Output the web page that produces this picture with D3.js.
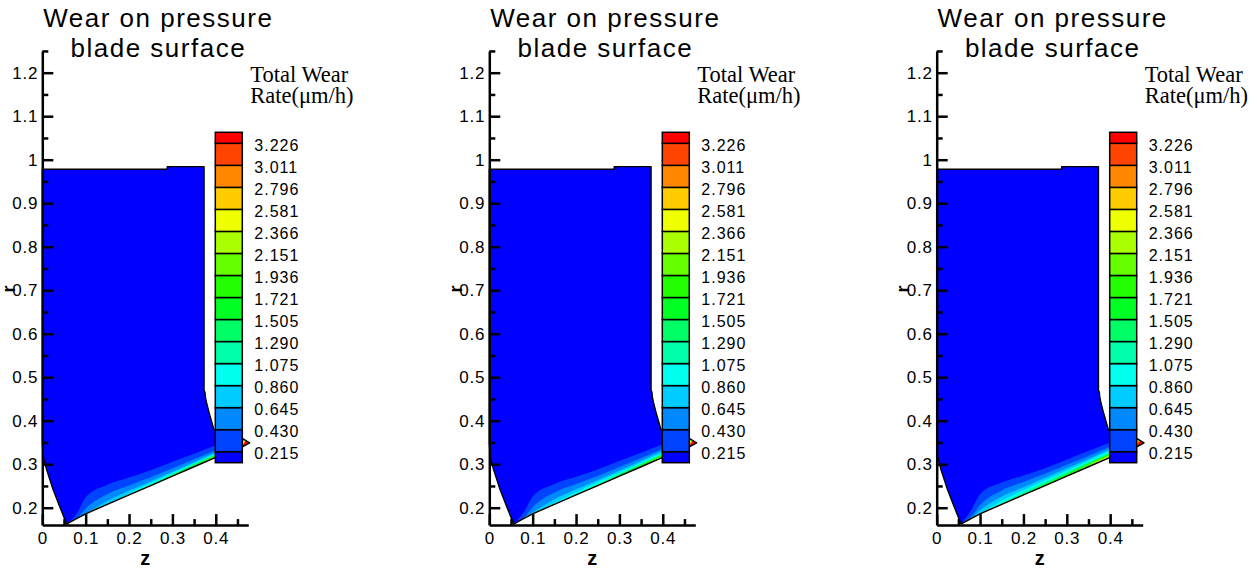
<!DOCTYPE html>
<html>
<head>
<meta charset="utf-8">
<script src="https://cdn.jsdelivr.net/npm/d3@7"></script>
<style>
  body { margin: 0; background: #fff; }
  svg { display: block; font-family: "Liberation Sans", Arial, sans-serif; }
  text { fill: #000; }
</style>
</head>
<body>
<svg id="chart" width="1257" height="575"></svg>
<script>
// axis ticks
var zTicks = [0, 0.1, 0.2, 0.3, 0.4];
var zTickLabels = ["0", "0.1", "0.2", "0.3", "0.4"];
var zMinorTicks = [0.05, 0.15, 0.25, 0.35, 0.45];
var rTicks = [0.2, 0.3, 0.4, 0.5, 0.6, 0.7, 0.8, 0.9, 1.0, 1.1, 1.2];
var rTickLabels = ["0.2", "0.3", "0.4", "0.5", "0.6", "0.7", "0.8", "0.9", "1", "1.1", "1.2"];
var rMinorTicks = [0.25, 0.35, 0.45, 0.55, 0.65, 0.75, 0.85, 0.95, 1.05, 1.15, 1.25];

// contour levels of the legend
var levels = [0.215, 0.430, 0.645, 0.860, 1.075, 1.290, 1.505, 1.721, 1.936, 2.151, 2.366, 2.581, 2.796, 3.011, 3.226];
var levelLabels = ["0.215", "0.430", "0.645", "0.860", "1.075", "1.290", "1.505", "1.721", "1.936", "2.151", "2.366", "2.581", "2.796", "3.011", "3.226"];

// blade outline: top, right side down to the tip (z, r)
var outlineTopZ = [0, 0.288, 0.288, 0.373, 0.373, 0.375, 0.376, 0.379, 0.385, 0.396, 0.43, 0.46];
var outlineTopR = [0.978, 0.978, 0.984, 0.984, 0.47, 0.466, 0.455, 0.44, 0.417, 0.379, 0.368, 0.36];
// blade outline: left side from the lowest point up to the axis
var outlineLeftZ = [0.04, 0.025, 0.010, 0.002, 0];
var outlineLeftR = [0.203, 0.241, 0.287, 0.317, 0.349];
// trailing (lower) edge, also the stations for the wear bands
var stationZ = [0.056, 0.08, 0.1, 0.15, 0.2, 0.25, 0.3, 0.35, 0.4, 0.44, 0.46, 0.478];
var edgeR = [0.1625, 0.1752, 0.186, 0.2077, 0.2293, 0.2509, 0.2725, 0.2941, 0.3157, 0.331, 0.339, 0.349];

// height (in r) of the region above each level, measured from the lower edge
var wearPanel1 = [
  [0, 0.012, 0.038, 0.045, 0.040, 0.035, 0.033, 0.030, 0.028, 0.027, 0.03, 0.03],
  [0, 0, 0.012, 0.024, 0.022, 0.019, 0.018, 0.017, 0.017, 0.017, 0.03, 0.03],
  [0, 0, 0, 0.008, 0.010, 0.010, 0.010, 0.011, 0.012, 0.013, 0.03, 0.03],
  [0, 0, 0, 0, 0.004, 0.006, 0.007, 0.008, 0.009, 0.011, 0.03, 0.03],
  [0, 0, 0, 0, 0, 0.003, 0.005, 0.006, 0.007, 0.009, 0.03, 0.03],
  [0, 0, 0, 0, 0, 0, 0.003, 0.005, 0.006, 0.008, 0.02, 0.03],
  [0, 0, 0, 0, 0, 0, 0.001, 0.004, 0.005, 0.007, 0.015, 0.03],
  [0, 0, 0, 0, 0, 0, 0, 0.002, 0.004, 0.006, 0.012, 0.03],
  [0, 0, 0, 0, 0, 0, 0, 0.001, 0.003, 0.005, 0.010, 0.03],
  [0, 0, 0, 0, 0, 0, 0, 0, 0.002, 0.004, 0.008, 0.03],
  [0, 0, 0, 0, 0, 0, 0, 0, 0.001, 0.003, 0.006, 0.03],
  [0, 0, 0, 0, 0, 0, 0, 0, 0, 0.002, 0.004, 0.03],
  [0, 0, 0, 0, 0, 0, 0, 0, 0, 0.001, 0.003, 0.03],
  [0, 0, 0, 0, 0, 0, 0, 0, 0, 0, 0.002, 0.025],
  [0, 0, 0, 0, 0, 0, 0, 0, 0, 0, 0.001, 0.02]
];
var wearPanel2 = [
  [0, 0.015, 0.040, 0.047, 0.042, 0.037, 0.035, 0.032, 0.030, 0.029, 0.03, 0.03],
  [0, 0.002, 0.015, 0.027, 0.025, 0.022, 0.021, 0.020, 0.020, 0.020, 0.03, 0.03],
  [0, 0, 0.003, 0.012, 0.013, 0.013, 0.013, 0.014, 0.015, 0.016, 0.03, 0.03],
  [0, 0, 0, 0.003, 0.006, 0.008, 0.009, 0.010, 0.011, 0.013, 0.03, 0.03],
  [0, 0, 0, 0, 0.002, 0.004, 0.006, 0.007, 0.008, 0.011, 0.03, 0.03],
  [0, 0, 0, 0, 0, 0.001, 0.004, 0.006, 0.007, 0.009, 0.022, 0.03],
  [0, 0, 0, 0, 0, 0, 0.002, 0.004, 0.006, 0.008, 0.017, 0.03],
  [0, 0, 0, 0, 0, 0, 0, 0.003, 0.005, 0.007, 0.014, 0.03],
  [0, 0, 0, 0, 0, 0, 0, 0.001, 0.004, 0.006, 0.011, 0.03],
  [0, 0, 0, 0, 0, 0, 0, 0, 0.002, 0.005, 0.009, 0.03],
  [0, 0, 0, 0, 0, 0, 0, 0, 0.001, 0.003, 0.007, 0.03],
  [0, 0, 0, 0, 0, 0, 0, 0, 0, 0.002, 0.005, 0.03],
  [0, 0, 0, 0, 0, 0, 0, 0, 0, 0.001, 0.004, 0.03],
  [0, 0, 0, 0, 0, 0, 0, 0, 0, 0, 0.002, 0.025],
  [0, 0, 0, 0, 0, 0, 0, 0, 0, 0, 0.001, 0.02]
];
var wearPanel3 = [
  [0, 0.020, 0.045, 0.050, 0.045, 0.040, 0.038, 0.036, 0.034, 0.033, 0.03, 0.03],
  [0, 0.005, 0.020, 0.032, 0.030, 0.027, 0.026, 0.025, 0.025, 0.025, 0.03, 0.03],
  [0, 0, 0.008, 0.018, 0.018, 0.018, 0.018, 0.018, 0.019, 0.020, 0.03, 0.03],
  [0, 0, 0, 0.008, 0.011, 0.012, 0.013, 0.014, 0.015, 0.016, 0.03, 0.03],
  [0, 0, 0, 0.003, 0.006, 0.008, 0.010, 0.011, 0.012, 0.014, 0.03, 0.03],
  [0, 0, 0, 0, 0.003, 0.005, 0.007, 0.009, 0.010, 0.012, 0.025, 0.03],
  [0, 0, 0, 0, 0.001, 0.003, 0.005, 0.007, 0.008, 0.010, 0.02, 0.03],
  [0, 0, 0, 0, 0, 0.001, 0.003, 0.005, 0.007, 0.009, 0.018, 0.03],
  [0, 0, 0, 0, 0, 0, 0.002, 0.004, 0.006, 0.008, 0.015, 0.03],
  [0, 0, 0, 0, 0, 0, 0, 0.003, 0.005, 0.007, 0.012, 0.03],
  [0, 0, 0, 0, 0, 0, 0, 0.001, 0.003, 0.005, 0.010, 0.03],
  [0, 0, 0, 0, 0, 0, 0, 0, 0.002, 0.004, 0.008, 0.03],
  [0, 0, 0, 0, 0, 0, 0, 0, 0.001, 0.003, 0.006, 0.03],
  [0, 0, 0, 0, 0, 0, 0, 0, 0, 0.002, 0.004, 0.025],
  [0, 0, 0, 0, 0, 0, 0, 0, 0, 0, 0.001, 0.02]
];
var panels = [wearPanel1, wearPanel2, wearPanel3];
var panelShift = [0, 447, 894.4];

// colours of the 16 bands, blue to red
var bandColors = d3.range(16).map(function(i) { return d3.hsl(240 - i * 16, 1, 0.5).formatHex(); });

var svg = d3.select("#chart");

var x = d3.scaleLinear().domain([0, 0.475]).range([42.3, 248.3]);
var y = d3.scaleLinear().domain([0.2, 1.2]).range([507.7, 72.7]);
var yTop = y(1.25), yBottom = y(0.16);

// colorbar positions by band index
var cb = d3.scaleLinear().domain([0.5, 15.5]).range([462.7, 132.3]);
var cbX0 = x(0) + 173, cbX1 = x(0) + 200;

var pt = function(z, r) { return [x(z), y(r)]; };
var outlinePts = [];
outlineTopZ.forEach(function(z, i) { outlinePts.push(pt(z, outlineTopR[i])); });
for (var i = stationZ.length - 1; i >= 0; i--) outlinePts.push(pt(stationZ[i], edgeR[i]));
outlineLeftZ.forEach(function(z, i) { outlinePts.push(pt(z, outlineLeftR[i])); });
var outlinePath = "M" + outlinePts.map(function(p) { return p.join(","); }).join("L") + "Z";

svg.append("defs").append("clipPath").attr("id", "blade-clip")
  .append("path").attr("d", outlinePath);

var bandLine = d3.line().curve(d3.curveMonotoneX);

panels.forEach(function(wear, p) {
  var g = svg.append("g").attr("transform", "translate(" + panelShift[p] + ",0)");

  // blade with wear bands
  g.append("path").attr("d", outlinePath).attr("fill", bandColors[0]);
  var bands = g.append("g").attr("clip-path", "url(#blade-clip)");
  wear.forEach(function(t, k) {
    var top = stationZ.map(function(z, i) { return pt(z, edgeR[i] + t[i]); });
    var d = bandLine(top) + "L" + pt(0.478, 0.2).join(",") + "L" + pt(0.056, 0.1).join(",") + "Z";
    bands.append("path").attr("d", d).attr("fill", bandColors[k + 1]);
  });
  g.append("path").attr("d", outlinePath).attr("fill", "none")
    .attr("stroke", "#000").attr("stroke-width", 1.4).attr("stroke-linejoin", "round");

  // axes
  g.append("g").attr("transform", "translate(" + x(0) + ",0)")
    .call(d3.axisLeft(y.copy().domain([0.16, 1.25]).range([yBottom, yTop]))
      .tickValues(rTicks).tickFormat(function(d, i) { return rTickLabels[i]; })
      .tickSizeInner(-11).tickSizeOuter(0).tickPadding(4));
  var yMinor = g.append("g").attr("transform", "translate(" + x(0) + ",0)")
    .call(d3.axisLeft(y).tickValues(rMinorTicks).tickFormat("").tickSizeInner(-6).tickSizeOuter(0));
  yMinor.select(".domain").remove();

  g.append("g").attr("transform", "translate(0," + yBottom + ")")
    .call(d3.axisBottom(x).tickValues(zTicks).tickFormat(function(d, i) { return zTickLabels[i]; })
      .tickSizeInner(-11).tickSizeOuter(0).tickPadding(7));
  var xMinor = g.append("g").attr("transform", "translate(0," + yBottom + ")")
    .call(d3.axisBottom(x).tickValues(zMinorTicks).tickFormat("").tickSizeInner(-6).tickSizeOuter(0));
  xMinor.select(".domain").remove();

  g.selectAll(".tick line, .domain").attr("stroke", "#000").attr("stroke-width", 2.5);
  g.selectAll(".tick text").attr("font-size", 17).attr("letter-spacing", "0.8px")
    .attr("font-family", null).attr("fill", "#000");

  g.append("text").attr("x", (x(0) + x(0.475)) / 2).attr("y", 565)
    .attr("text-anchor", "middle").attr("font-size", 20).attr("font-weight", "bold").text("z");
  g.append("text").attr("transform", "translate(15,289) rotate(-90)")
    .attr("text-anchor", "middle").attr("font-size", 18).attr("font-weight", "bold").text("r");

  // title
  var title = g.append("text").attr("text-anchor", "middle").attr("font-size", 26)
    .attr("letter-spacing", "1.5px");
  title.append("tspan").attr("x", x(0) + 116).attr("y", 27).text("Wear on pressure");
  title.append("tspan").attr("x", x(0) + 116).attr("y", 57).text("blade surface");

  // colorbar
  var cbg = g.append("g");
  d3.range(16).forEach(function(b) {
    var lo = Math.max(b, 0.5), hi = Math.min(b + 1, 15.5);
    cbg.append("rect").attr("x", cbX0).attr("width", cbX1 - cbX0)
      .attr("y", cb(hi)).attr("height", cb(lo) - cb(hi))
      .attr("fill", bandColors[b]).attr("stroke", "#000").attr("stroke-width", 1.5);
  });
  levels.forEach(function(v, k) {
    cbg.append("text").attr("x", x(0) + 212).attr("y", cb(k + 1) + 3.4)
      .attr("dominant-baseline", "middle").attr("font-size", 16).attr("letter-spacing", "1px")
      .text(levelLabels[k]);
  });
  ["Total Wear", "Rate(\u03bcm/h)"].forEach(function(s, j) {
    g.append("text").style("font-family", "'Liberation Serif', 'Times New Roman', serif")
      .attr("font-size", 22.5).attr("x", x(0) + 208).attr("y", 81.7 + j * 21.5).text(s);
  });
});
</script>
</body>
</html>
